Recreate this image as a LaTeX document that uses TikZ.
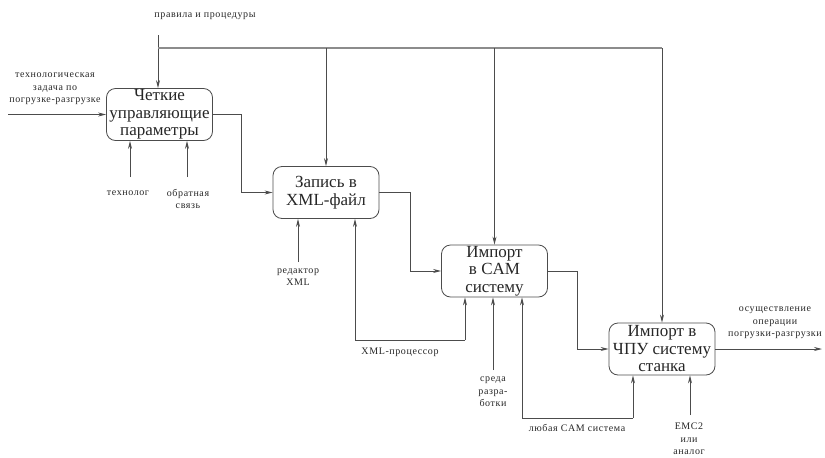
\documentclass[tikz,border=0pt]{standalone}
\usepackage{fontspec}
\setmainfont{Liberation Serif}
\newfontfamily\lblfont[LetterSpace=6]{Liberation Serif}
\usetikzlibrary{arrows.meta}
\begin{document}
\begin{tikzpicture}[x=1pt,y=-1pt,
  proc/.style={draw=black!70, line width=0.8pt, rounded corners=9pt, minimum width=106pt, minimum height=52pt, align=center, font=\fontsize{17}{17.5}\selectfont, inner sep=0pt, text=black!85},
  lbl/.style={align=center, font=\lblfont\fontsize{10}{12.5}\selectfont, inner sep=0pt, text=black!85},
  conn/.style={draw=black!70, line width=0.8pt},
  arr/.style={conn, -{Stealth[length=8pt,width=4pt]}}]
\useasboundingbox (0,0) rectangle (825,458);
% boxes
\node[proc] (b1) at (159.5,114.5) {Четкие\\управляющие\\параметры};
\node[proc] (b2) at (326,192.5) {Запись в\\XML-файл};
\node[proc] (b3) at (494.5,271) {Импорт\\в CAM\\систему};
\node[proc] (b4) at (662,349) {Импорт в\\ЧПУ систему\\станка};
% labels
\node[lbl] (lrules) at (205,16) {правила и процедуры};
\node[lbl] (ltask) at (55,89) {технологическая\\задача по\\погрузке-разгрузке};
\node[lbl] (ltech) at (128,193) {технолог};
\node[lbl] (lfb) at (188,199) {обратная\\связь};
\node[lbl] (led) at (298,277) {редактор\\XML};
\node[lbl] (lxp) at (400,352) {XML-процессор};
\node[lbl] (lenv) at (493,392) {среда\\разра-\\ботки};
\node[lbl] (lcam) at (577,428) {любая CAM система};
\node[lbl] (lemc) at (689,439) {EMC2\\или\\аналог};
\node[lbl] (lout) at (775,323) {осуществление\\операции\\погрузки-разгрузки};
% coordinates
\coordinate (t0) at (158,35);
\coordinate (tj) at (158,48);
\coordinate (in) at (8,114.5);
\coordinate (j1) at (241,0);
\coordinate (j2) at (410,0);
\coordinate (j3) at (577,0);
\coordinate (out) at (822,349);
\coordinate (m1) at (130,177);
\coordinate (m2) at (187,177);
\coordinate (m3) at (298,262);
\coordinate (xp) at (355,340);
\coordinate (xq) at (465,340);
\coordinate (m4) at (493,370);
\coordinate (cp) at (522,418);
\coordinate (cq) at (633,418);
\coordinate (m5) at (690,415);
% controls
\draw[arr] (t0) -- (t0 |- b1.north);
\draw[conn, draw=black!45, line width=1.2pt] (tj) -- (tj -| b4.north);
\draw[arr] (tj -| b2.north) -- (b2.north);
\draw[arr] (tj -| b3.north) -- (b3.north);
\draw[arr] (tj -| b4.north) -- (b4.north);
% input / outputs
\draw[arr] (in) -- (b1.west);
\draw[arr] (b1.east) -- (b1.east -| j1) |- (b2.west);
\draw[arr] (b2.east) -- (b2.east -| j2) |- (b3.west);
\draw[arr] (b3.east) -- (b3.east -| j3) |- (b4.west);
\draw[arr] (b4.east) -- (out);
% mechanisms
\draw[arr] (m1) -- (m1 |- b1.south);
\draw[arr] (m2) -- (m2 |- b1.south);
\draw[arr] (m3) -- (m3 |- b2.south);
\draw[arr] (xp) -- (xp |- b2.south);
\draw[conn] (xp) -- (xq);
\draw[arr] (xq) -- (xq |- b3.south);
\draw[arr] (m4) -- (m4 |- b3.south);
\draw[arr] (cp) -- (cp |- b3.south);
\draw[conn] (cp) -- (cq);
\draw[arr] (cq) -- (cq |- b4.south);
\draw[arr] (m5) -- (m5 |- b4.south);
\end{tikzpicture}
\end{document}
